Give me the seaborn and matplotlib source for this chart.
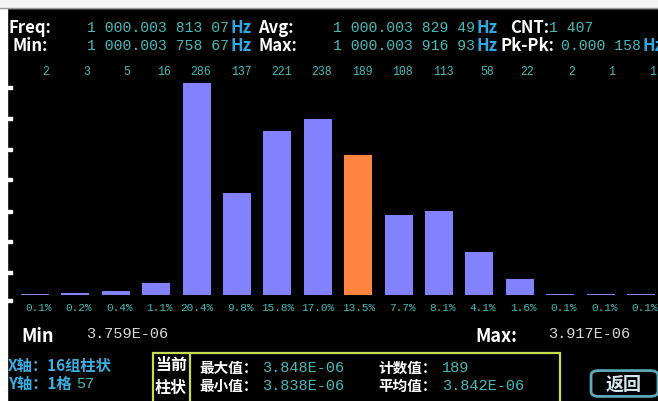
import matplotlib
matplotlib.use("Agg")
import matplotlib.pyplot as plt
import seaborn as sns
import pandas as pd
from matplotlib import transforms
from matplotlib.patches import Rectangle, FancyBboxPatch
from matplotlib.lines import Line2D

# ---------------- data ----------------
bins = [str(i) for i in range(1, 17)]
counts = [2, 3, 5, 16, 286, 137, 221, 238, 189, 108, 113, 58, 22, 2, 1, 1]
percents = ["0.1%", "0.2%", "0.4%", "1.1%", "20.4%", "9.8%", "15.8%", "17.0%",
            "13.5%", "7.7%", "8.1%", "4.1%", "1.6%", "0.1%", "0.1%", "0.1%"]
current_bin = "9"

freq_val = "1 000.003 813 07"
avg_val = "1 000.003 829 49"
min_val = "1 000.003 758 67"
max_val = "1 000.003 916 93"
cnt_val = "1 407"
pkpk_val = "0.000 158"
range_min = "3.759E-06"
range_max = "3.917E-06"
bar_max = "3.848E-06"
bar_min = "3.838E-06"
bar_cnt = "189"
bar_avg = "3.842E-06"

# ---------------- style ----------------
W, H = 658, 401
PURPLE = "#8282FF"
ORANGE = "#FF8440"
CYAN = "#45BCBC"
HZ = "#2FA8E6"
AXIS_LBL = "#3AB0E4"
BOX = "#C8DC50"

sns.set_theme(style="dark")
plt.rcParams["font.family"] = ["Noto Sans CJK SC", "DejaVu Sans"]
MONO = ["Liberation Mono", "DejaVu Sans Mono"]
SANS = ["Noto Sans CJK SC", "DejaVu Sans"]

fig = plt.figure(figsize=(W / 100, H / 100), dpi=100, facecolor="black")


def fx(px):
    return px / W


def fy(py):
    return 1 - py / H


def T(px, py, s, color="white", size=10, family=SANS, weight="normal", ha="left", va="center"):
    fig.text(fx(px), fy(py), s, color=color, fontsize=size, family=family,
             weight=weight, ha=ha, va=va, zorder=8)


# ---------------- bars ----------------
base_py, top_py = 295, 83
ax = fig.add_axes([0, fy(base_py), 1, (base_py - top_py) / H])
df = pd.DataFrame({"bin": bins, "count": counts})
palette = {b: (ORANGE if b == current_bin else PURPLE) for b in bins}
sns.barplot(data=df, x="bin", y="count", hue="bin", palette=palette, order=bins,
            hue_order=bins, legend=False, width=0.693, saturation=1, ax=ax,
            edgecolor="none", linewidth=0)
step = 40.4
ax.set_xlim(-35 / step, (W - 35) / step)
ax.set_ylim(0, max(counts))
ax.set_facecolor("black")
ax.axis("off")

trans = transforms.blended_transform_factory(ax.transData, fig.transFigure)
for i, (c, p) in enumerate(zip(counts, percents)):
    ax.text(i + 0.36, fy(72), str(c), transform=trans, ha="right", va="center",
            color=CYAN, fontsize=8.3, family=MONO)
    ax.text(i + 0.42, fy(308), p, transform=trans, ha="right", va="center",
            color=CYAN, fontsize=8.0, family=MONO)

# ---------------- frame decorations ----------------
fig.add_artist(Rectangle((0, 0), fx(6.5), 1, transform=fig.transFigure,
                         color="white", zorder=5))
fig.add_artist(Rectangle((0, fy(8)), 1, 8 / H, transform=fig.transFigure,
                         color="#F4F4F4", zorder=5))
fig.add_artist(Line2D([0, 1], [fy(7.5), fy(7.5)], transform=fig.transFigure,
                      color="#9A9A9A", lw=1, zorder=6))
for py in [87, 118, 149, 180, 211, 241, 272, 300]:
    fig.add_artist(Rectangle((0, fy(py + 1.5)), fx(12), 3 / H,
                             transform=fig.transFigure, color="white", zorder=5))

# ---------------- header ----------------
r1, r2 = 28, 46
LS = 12
NS = 10.6
T(8, r1, "Freq:", size=LS, weight="bold")
T(12, r2, "Min:", size=LS, weight="bold")
T(87, r1, freq_val, color=CYAN, size=NS, family=MONO)
T(87, r2, min_val, color=CYAN, size=NS, family=MONO)
T(230, r1, "Hz", color=HZ, size=LS, weight="bold")
T(230, r2, "Hz", color=HZ, size=LS, weight="bold")
T(258, r1, "Avg:", size=LS, weight="bold")
T(258, r2, "Max:", size=LS, weight="bold")
T(333, r1, avg_val, color=CYAN, size=NS, family=MONO)
T(333, r2, max_val, color=CYAN, size=NS, family=MONO)
T(476, r1, "Hz", color=HZ, size=LS, weight="bold")
T(476, r2, "Hz", color=HZ, size=LS, weight="bold")
T(510, r1, "CNT:", size=LS, weight="bold")
T(549, r1, cnt_val, color=CYAN, size=NS, family=MONO)
T(500, r2, "Pk-Pk:", size=LS, weight="bold")
T(561, r2, pkpk_val, color=CYAN, size=NS, family=MONO)
T(642, r2, "Hz", color=HZ, size=LS, weight="bold")

# ---------------- bottom ----------------
T(21, 336, "Min", size=13, weight="bold")
T(86, 334, range_min, color="#D8D8D8", size=11, family=MONO)
T(475, 337, "Max:", size=13, weight="bold")
T(548, 334, range_max, color="#D8D8D8", size=11, family=MONO)

T(8, 366, "X轴：16组柱状", color=AXIS_LBL, size=11, weight="bold")
T(8, 384, "Y轴：1格", color=AXIS_LBL, size=11, weight="bold")
T(76, 384, "57", color=CYAN, size=11, family=MONO)

fig.add_artist(Rectangle((fx(153), fy(405)), (560 - 153) / W, (405 - 353) / H,
                         transform=fig.transFigure, fill=False, ec=BOX, lw=1.6, zorder=4))
fig.add_artist(Line2D([fx(190), fx(190)], [fy(353), fy(405)], transform=fig.transFigure,
                      color=BOX, lw=1.6, zorder=4))
T(155, 365, "当前", size=11.5, weight="bold")
T(155, 388, "柱状", size=11.5, weight="bold")

T(199, 368, "最大值：", size=10.5, weight="bold")
T(262, 368, bar_max, color=CYAN, size=11, family=MONO)
T(199, 386, "最小值：", size=10.5, weight="bold")
T(262, 386, bar_min, color=CYAN, size=11, family=MONO)
T(378, 368, "计数值：", size=10.5, weight="bold")
T(442, 368, bar_cnt, color=CYAN, size=11, family=MONO)
T(378, 386, "平均值：", size=10.5, weight="bold")
T(442, 386, bar_avg, color=CYAN, size=11, family=MONO)

fig.add_artist(FancyBboxPatch((fx(595), fy(394)), (654 - 595) / W, (394 - 373) / H,
                              boxstyle="round,pad=0.006,rounding_size=0.012",
                              transform=fig.transFigure, fc="black", ec="#5AAABB",
                              lw=2, zorder=4))
T(624, 384, "返回", color="#D4E8EE", size=13, weight="bold", ha="center")

fig.savefig("out.png", dpi=100, facecolor="black")
